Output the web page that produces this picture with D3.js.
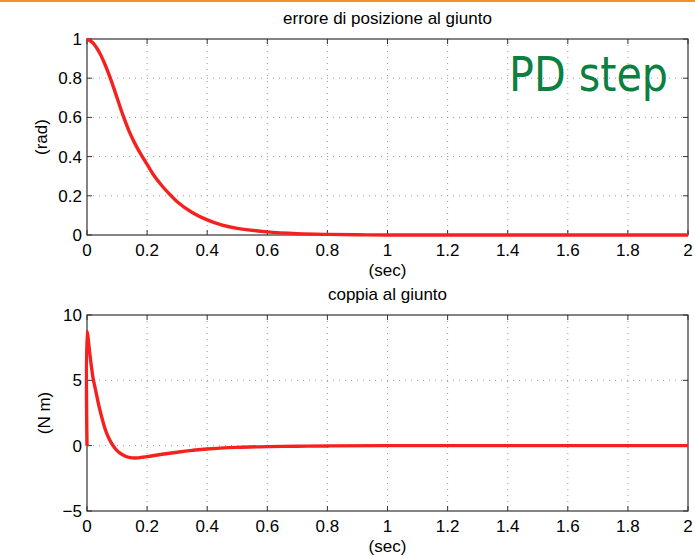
<!DOCTYPE html>
<html>
<head>
<meta charset="utf-8">
<script src="https://cdn.jsdelivr.net/npm/d3@7"></script>
<style>
  body { margin: 0; background: #fff; }
  svg { display: block; }
  text { font-family: "Liberation Sans", Arial, sans-serif; fill: #000; }
</style>
</head>
<body>
<div id="chart"></div>
<script>
// values
var errTime = [0, 0.02, 0.04, 0.06, 0.08, 0.1, 0.12, 0.14, 0.16, 0.18, 0.2, 0.22, 0.25, 0.28, 0.3, 0.35, 0.4, 0.45, 0.5, 0.6, 0.7, 0.8, 0.9, 1.0, 2.0];
var errValues = [1.0, 0.98, 0.935, 0.87, 0.79, 0.7, 0.61, 0.53, 0.465, 0.41, 0.36, 0.31, 0.25, 0.2, 0.17, 0.115, 0.077, 0.05, 0.034, 0.016, 0.007, 0.003, 0.001, 0, 0];

var torqueTime = [0, 0, 0.01, 0.02, 0.03, 0.04, 0.05, 0.06, 0.07, 0.08, 0.09, 0.1, 0.11, 0.12, 0.13, 0.14, 0.15, 0.16, 0.17, 0.18, 0.2, 0.25, 0.3, 0.35, 0.4, 0.5, 0.6, 0.7, 0.8, 1.0, 2.0];
var torqueValues = [0, 8.75, 6.9, 5.2, 4.1, 3.0, 2.1, 1.3, 0.7, 0.25, -0.1, -0.38, -0.58, -0.72, -0.83, -0.9, -0.93, -0.94, -0.93, -0.9, -0.84, -0.66, -0.5, -0.36, -0.25, -0.13, -0.07, -0.04, -0.02, 0, 0];

var timeTicks = [0, 0.2, 0.4, 0.6, 0.8, 1, 1.2, 1.4, 1.6, 1.8, 2];
var errTicks = [0, 0.2, 0.4, 0.6, 0.8, 1];
var torqueTicks = [-5, 0, 5, 10];

var W = 695, H = 556;
var left = 87, right = 688;

var svg = d3.select("#chart").append("svg")
  .attr("width", W)
  .attr("height", H);

// orange rule at the top of the slide
svg.append("rect")
  .attr("x", 0).attr("y", 0)
  .attr("width", W).attr("height", 2)
  .attr("fill", "#f39325");

function fmtTick(d) {
  return d < 0 ? "\u2212" + Math.abs(d) : String(d);
}

function drawPanel(cfg) {
  var x = d3.scaleLinear().domain([0, 2]).range([left, right]);
  var y = d3.scaleLinear().domain(cfg.domain).range([cfg.bottom, cfg.top]);
  var g = svg.append("g");

  // dotted grid
  g.selectAll(".vgrid").data(timeTicks.slice(1, -1)).enter().append("line")
    .attr("x1", function (d) { return x(d); })
    .attr("x2", function (d) { return x(d); })
    .attr("y1", cfg.top).attr("y2", cfg.bottom)
    .attr("stroke", "#999").attr("stroke-width", 1)
    .attr("stroke-dasharray", "1,5");
  g.selectAll(".hgrid").data(cfg.ticks.slice(1, -1)).enter().append("line")
    .attr("y1", function (d) { return y(d); })
    .attr("y2", function (d) { return y(d); })
    .attr("x1", left).attr("x2", right)
    .attr("stroke", "#999").attr("stroke-width", 1)
    .attr("stroke-dasharray", "1,5");

  // inside ticks on all four sides
  var tk = 5;
  timeTicks.forEach(function (d) {
    g.append("line").attr("x1", x(d)).attr("x2", x(d))
      .attr("y1", cfg.bottom).attr("y2", cfg.bottom - tk).attr("stroke", "#333");
    g.append("line").attr("x1", x(d)).attr("x2", x(d))
      .attr("y1", cfg.top).attr("y2", cfg.top + tk).attr("stroke", "#333");
  });
  cfg.ticks.forEach(function (d) {
    g.append("line").attr("x1", left).attr("x2", left + tk)
      .attr("y1", y(d)).attr("y2", y(d)).attr("stroke", "#333");
    g.append("line").attr("x1", right).attr("x2", right - tk)
      .attr("y1", y(d)).attr("y2", y(d)).attr("stroke", "#333");
  });

  // box
  g.append("rect")
    .attr("x", left).attr("y", cfg.top)
    .attr("width", right - left).attr("height", cfg.bottom - cfg.top)
    .attr("fill", "none").attr("stroke", "#333").attr("stroke-width", 1.2);

  // tick labels
  g.selectAll(".xl").data(timeTicks).enter().append("text")
    .attr("x", function (d) { return x(d); })
    .attr("y", cfg.bottom + 21)
    .attr("text-anchor", "middle")
    .style("font-size", "17px")
    .text(function (d) { return fmtTick(d); });
  g.selectAll(".yl").data(cfg.ticks).enter().append("text")
    .attr("x", left - 5)
    .attr("y", function (d) { return y(d) + 6; })
    .attr("text-anchor", "end")
    .style("font-size", "17px")
    .text(function (d) { return fmtTick(d); });

  // title and axis labels
  g.append("text")
    .attr("x", (left + right) / 2).attr("y", cfg.top - 15)
    .attr("text-anchor", "middle").style("font-size", "17px")
    .text(cfg.title);
  g.append("text")
    .attr("x", (left + right) / 2).attr("y", cfg.bottom + 41)
    .attr("text-anchor", "middle").style("font-size", "17px")
    .text("(sec)");
  g.append("text")
    .attr("transform", "translate(" + cfg.ylabX + "," + (cfg.top + cfg.bottom) / 2 + ") rotate(-90)")
    .attr("text-anchor", "middle").style("font-size", "17px")
    .text(cfg.ylabel);

  // the curve
  var line = d3.line()
    .x(function (d) { return x(d[0]); })
    .y(function (d) { return y(d[1]); })
    .curve(d3.curveCatmullRom.alpha(0.5));
  g.append("path")
    .datum(d3.zip(cfg.t, cfg.v))
    .attr("d", line)
    .attr("fill", "none")
    .attr("stroke", "#f5211f")
    .attr("stroke-width", 3.4)
    .attr("stroke-linejoin", "round");
}

drawPanel({
  top: 39, bottom: 235, domain: [0, 1], ticks: errTicks,
  t: errTime, v: errValues,
  title: "errore di posizione al giunto", ylabel: "(rad)", ylabX: 47
});

drawPanel({
  top: 315, bottom: 511, domain: [-5, 10], ticks: torqueTicks,
  t: torqueTime, v: torqueValues,
  title: "coppia al giunto", ylabel: "(N m)", ylabX: 50
});

// slide label
svg.append("text")
  .attr("x", 509).attr("y", 91)
  .attr("textLength", 159)
  .attr("lengthAdjust", "spacingAndGlyphs")
  .style("font-family", "'DejaVu Sans', sans-serif")
  .style("font-size", "48px")
  .style("fill", "#0b8040")
  .text("PD step");
</script>
</body>
</html>
